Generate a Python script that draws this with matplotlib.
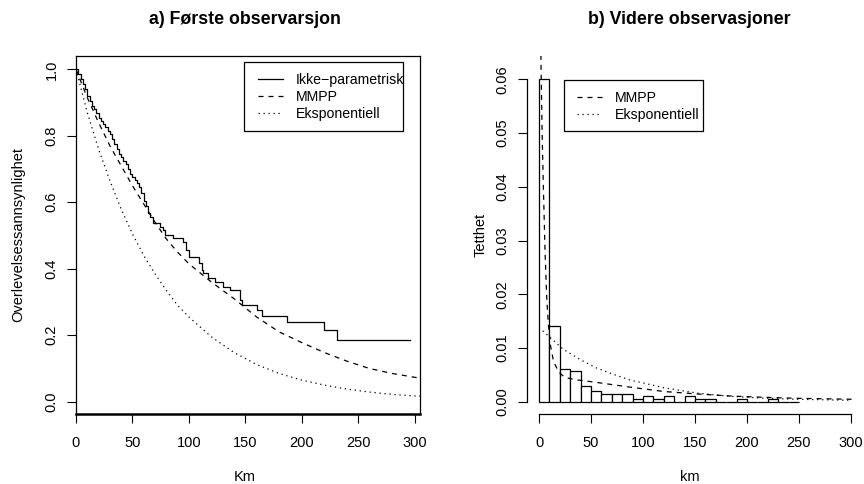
import numpy as np
import matplotlib
matplotlib.use('Agg')
import matplotlib.pyplot as plt
from matplotlib.lines import Line2D
from matplotlib.patches import Rectangle

plt.rcParams['font.family'] = ['Liberation Sans', 'DejaVu Sans']

# ---- a) survival curves (read off the picture) ----
km_time = [0, 2, 4, 6, 8, 10, 12, 14, 16, 18, 20, 22, 24, 26, 28, 30, 32, 34, 36, 38,
           40, 42, 44, 46, 48, 50, 52, 54, 56, 58, 60, 62, 64, 66, 68.5, 74.5, 77.4,
           78.9, 86.3, 94.6, 97.5, 100.5, 109.4, 111.4, 112.9, 117.3, 123.2, 130.6,
           136.5, 145.4, 146.9, 160.2, 164.6, 186.8, 220.1, 231.1, 295.5]
km_surv = [1.0, 0.985, 0.97, 0.955, 0.94, 0.92, 0.905, 0.89, 0.88, 0.87, 0.855, 0.845,
           0.835, 0.825, 0.815, 0.805, 0.79, 0.775, 0.76, 0.745, 0.735, 0.725, 0.715,
           0.70, 0.685, 0.675, 0.667, 0.657, 0.647, 0.627, 0.605, 0.59, 0.567, 0.555,
           0.537, 0.527, 0.517, 0.501, 0.492, 0.481, 0.456, 0.436, 0.416, 0.396, 0.386,
           0.371, 0.361, 0.346, 0.336, 0.306, 0.291, 0.276, 0.259, 0.239, 0.216, 0.185,
           0.185]

curve_x = [0, 10, 20, 30, 40, 50, 60, 70, 80, 90, 100, 120, 140, 160, 180, 200, 220,
           240, 260, 280, 306]
mmpp_surv = [1.0, 0.915, 0.84, 0.77, 0.71, 0.65, 0.595, 0.54, 0.49, 0.45, 0.415, 0.36,
             0.31, 0.255, 0.21, 0.178, 0.148, 0.122, 0.10, 0.085, 0.07]
exp_surv = [1.0, 0.87, 0.76, 0.665, 0.58, 0.505, 0.44, 0.385, 0.335, 0.29, 0.255, 0.195,
            0.148, 0.112, 0.085, 0.065, 0.05, 0.038, 0.029, 0.022, 0.016]

# ---- b) histogram and densities ----
bin_start = [0, 10, 20, 30, 40, 50, 60, 70, 80, 90, 100, 110, 120, 130, 140, 150, 160,
             170, 180, 190, 200, 210, 220, 230, 240]
hist_dens = [0.0600, 0.0141, 0.0060, 0.0057, 0.0029, 0.0019, 0.0014, 0.0014, 0.0014,
             0.00045, 0.0010, 0.00045, 0.0010, 0.0, 0.0010, 0.00045, 0.00045, 0.0, 0.0,
             0.00045, 0.0, 0.0, 0.00045, 0.0, 0.0]

mmpp_x = [1.5, 2, 3, 4.2, 5.8, 7.5, 9, 11, 14, 19, 25, 35, 55, 88, 120, 152, 184, 216,
          248, 305]
mmpp_dens = [0.072, 0.062, 0.05, 0.04, 0.028, 0.019, 0.0145, 0.0105, 0.0075, 0.0055,
             0.0045, 0.0041, 0.0036, 0.0027, 0.0019, 0.00144, 0.00106, 0.00082, 0.00063,
             0.00044]
exp_x = [0, 10, 23, 40, 55, 70, 88, 100, 120, 152, 184, 216, 248, 305]
exp_dens = [0.0138, 0.0121, 0.0098, 0.0078, 0.0063, 0.0052, 0.0040, 0.0035, 0.0026,
            0.0016, 0.0010, 0.00065, 0.00045, 0.00025]

W, H = 864, 484
fig = plt.figure(figsize=(W / 100, H / 100), dpi=100)

def px_axes(x0, x1, y0, y1):
    return fig.add_axes([x0 / W, 1 - y1 / H, (x1 - x0) / W, (y1 - y0) / H])

def px_box(x0, x1, y0, y1):
    # legend frame drawn in pixel positions of the figure
    fig.add_artist(Rectangle((x0 / W, 1 - y1 / H), (x1 - x0) / W, (y1 - y0) / H,
                             transform=fig.transFigure, fill=False,
                             edgecolor='black', linewidth=0.9))

fs = 10.5
lfs = 10.2
title_fs = 12.8
dash = (0, (4, 4))
dot = (0, (1, 3))

def add_legend(ax, handles, labels, x, y):
    ax.legend(handles, labels, loc='upper left', bbox_to_anchor=(x / W, 1 - y / H),
              bbox_transform=fig.transFigure, fontsize=lfs, frameon=False,
              borderpad=0, borderaxespad=0, labelspacing=0.22,
              handlelength=1.76, handletextpad=0.92)

# ---------------- a) ----------------
ax1 = px_axes(76, 420, 55.7, 414)
ax1.step(km_time, km_surv, where='post', color='black', lw=0.9)
ax1.plot(curve_x, mmpp_surv, color='black', lw=0.9, linestyle=dash)
ax1.plot(curve_x, exp_surv, color='black', lw=0.9, linestyle=dot)
ax1.set_xlim(0, 304.8)
ax1.set_ylim(-0.037, 1.041)
ax1.set_xticks([0, 50, 100, 150, 200, 250, 300])
ax1.set_yticks([0.0, 0.2, 0.4, 0.6, 0.8, 1.0])
ax1.set_yticklabels(['0.0', '0.2', '0.4', '0.6', '0.8', '1.0'], rotation=90, va='center')
for s in ax1.spines.values():
    s.set_linewidth(0.9)
ax1.spines['bottom'].set_linewidth(1.8)
ax1.tick_params(length=6.5, width=0.8, labelsize=fs, pad=6)
ax1.tick_params(axis='x', pad=9.5)
ax1.set_xlabel('Km', fontsize=fs)
ax1.xaxis.set_label_coords(0.49, -0.175)
ax1.xaxis.label.set_va('center')
ax1.set_ylabel('Overlevelsessannsynlighet', fontsize=fs)
ax1.yaxis.set_label_coords(-0.169, 0.5)
ax1.yaxis.label.set_va('center')
ax1.text(0.49, 1 + 36 / 358.3, 'a) Første observarsjon', transform=ax1.transAxes,
         ha='center', va='center', fontsize=title_fs, fontweight='bold')

h1 = [Line2D([], [], color='black', lw=0.9),
      Line2D([], [], color='black', lw=0.9, linestyle=dash),
      Line2D([], [], color='black', lw=0.9, linestyle=dot)]
add_legend(ax1, h1, ['Ikke\u2212parametrisk', 'MMPP', 'Eksponentiell'], 258, 73)
px_box(244, 403, 62, 131)

# ---------------- b) ----------------
ax2 = px_axes(527, 852, 55.7, 414)
ax2.bar(bin_start, hist_dens, width=10, align='edge', color='white', edgecolor='black',
        linewidth=0.9, zorder=1)
ax2.plot(mmpp_x, mmpp_dens, color='black', lw=0.9, linestyle=dash, zorder=3)
ax2.plot(exp_x, exp_dens, color='black', lw=0.9, linestyle=dot, zorder=3)
ax2.set_xlim(-11.54, 301)
ax2.set_ylim(-0.00229, 0.0644)
ax2.set_xticks([0, 50, 100, 150, 200, 250, 300])
ax2.set_yticks([0.0, 0.01, 0.02, 0.03, 0.04, 0.05, 0.06])
ax2.set_yticklabels(['0.00', '0.01', '0.02', '0.03', '0.04', '0.05', '0.06'],
                    rotation=90, va='center')
ax2.spines['top'].set_visible(False)
ax2.spines['right'].set_visible(False)
ax2.spines['left'].set_bounds(0, 0.06)
ax2.spines['bottom'].set_bounds(0, 300)
for s in ('left', 'bottom'):
    ax2.spines[s].set_linewidth(0.9)
ax2.tick_params(length=6.5, width=0.8, labelsize=fs, pad=6)
ax2.tick_params(axis='x', pad=9.5)
ax2.set_xlabel('km', fontsize=fs)
ax2.xaxis.set_label_coords(0.5, -0.175)
ax2.xaxis.label.set_va('center')
ax2.set_ylabel('Tetthet', fontsize=fs)
ax2.yaxis.set_label_coords(-0.1415, 0.5)
ax2.yaxis.label.set_va('center')
ax2.text(0.5, 1 + 36 / 358.3, 'b) Videre observasjoner', transform=ax2.transAxes,
         ha='center', va='center', fontsize=title_fs, fontweight='bold')

h2 = [Line2D([], [], color='black', lw=0.9, linestyle=dash),
      Line2D([], [], color='black', lw=0.9, linestyle=dot)]
add_legend(ax2, h2, ['MMPP', 'Eksponentiell'], 577, 91)
px_box(564, 703, 80, 131)

fig.savefig('out.png', dpi=100)
